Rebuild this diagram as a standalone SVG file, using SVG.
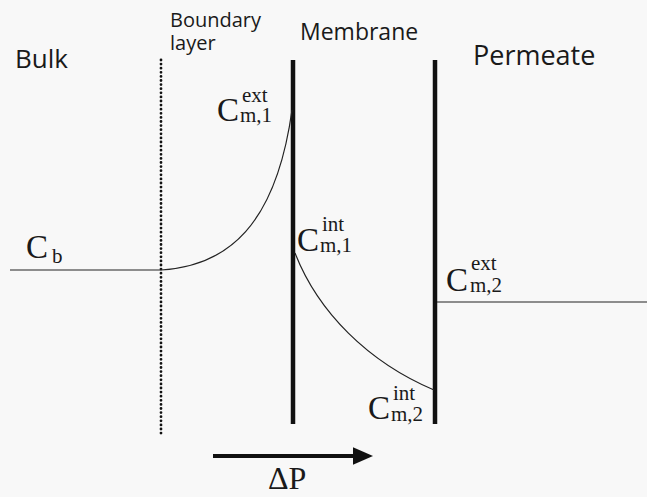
<svg xmlns="http://www.w3.org/2000/svg" width="647" height="497" viewBox="0 0 647 497">
<defs>
<style>
.lbl{font-family:"Open Sans","Liberation Sans",sans-serif;fill:#1a1a1a}
.m{font-family:"Liberation Serif","Times New Roman",serif;fill:#1a1a1a}
.big{font-size:33px}
.sm{font-size:21px}
.wall{stroke:#111;stroke-width:4.5;fill:none}
.thin{stroke:#222;stroke-width:1.2;fill:none}
</style>
<marker id="ah" markerWidth="5" markerHeight="4.4" refX="0" refY="2.2" orient="auto" markerUnits="strokeWidth">
<path d="M0,0 L5,2.2 L0,4.4 Z" fill="#111"/>
</marker>
</defs>
<rect width="647" height="497" fill="#f8f8f8"/>
<g id="labels">
<text class="lbl" x="15" y="68" font-size="26">Bulk</text>
<text class="lbl" x="170" y="27" font-size="20">Boundary</text>
<text class="lbl" x="170" y="50" font-size="20">layer</text>
<text class="lbl" x="300" y="40" font-size="23">Membrane</text>
<text class="lbl" x="473" y="65" font-size="27">Permeate</text>
</g>
<g id="boundary-layer">
<line x1="161" y1="60" x2="161" y2="434" stroke="#111" stroke-width="2.8" stroke-linecap="round" stroke-dasharray="0 4.1"/>
</g>
<g id="membrane-in">
<line class="wall" x1="293" y1="60" x2="293" y2="424"/>
</g>
<g id="membrane-out">
<line class="wall" x1="435" y1="60" x2="435" y2="424" stroke-width="5"/>
</g>
<g id="connectors">
<line class="thin" x1="10" y1="270" x2="161" y2="270"/>
<path class="thin" d="M161,270 C228,266 276,225 292,110"/>
<path class="thin" d="M295,253 C318,312 368,362 434,390"/>
<line class="thin" x1="437" y1="302" x2="647" y2="302"/>
<line x1="213" y1="456" x2="353" y2="456" stroke="#111" stroke-width="4" marker-end="url(#ah)"/>
</g>
<g id="c-b">
<text class="m big" x="26" y="258">C</text>
<text class="m sm" x="52" y="263">b</text>
</g>
<g id="c-m1-ext">
<text class="m big" x="217" y="121">C</text>
<text class="m sm" x="242" y="102">ext</text>
<text class="m sm" x="240" y="122">m,1</text>
</g>
<g id="c-m1-int">
<text class="m big" x="297" y="251">C</text>
<text class="m sm" x="322" y="231">int</text>
<text class="m sm" x="320" y="252">m,1</text>
</g>
<g id="c-m2-ext">
<text class="m big" x="446" y="291">C</text>
<text class="m sm" x="471" y="270">ext</text>
<text class="m sm" x="470" y="292">m,2</text>
</g>
<g id="c-m2-int">
<text class="m big" x="368" y="419">C</text>
<text class="m sm" x="393" y="400">int</text>
<text class="m sm" x="391" y="421">m,2</text>
</g>
<g id="dp">
<text class="m" x="268" y="489" font-size="32">ΔP</text>
</g>
</svg>
